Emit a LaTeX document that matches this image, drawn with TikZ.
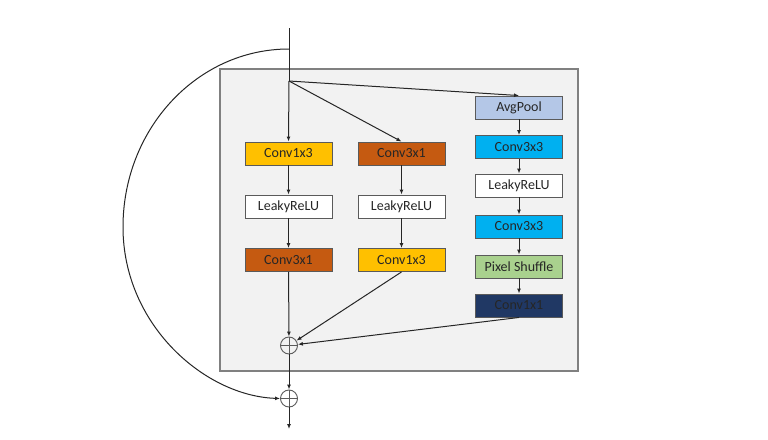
\documentclass[tikz,border=0pt]{standalone}
\usepackage{fontspec}
\setmainfont{Carlito}
\usetikzlibrary{arrows.meta}
\definecolor{txt}{HTML}{262626}
\definecolor{ln}{HTML}{262626}
\definecolor{bgbox}{HTML}{F2F2F2}
\definecolor{bgedge}{HTML}{808080}
\definecolor{cyel}{HTML}{FFC000}
\definecolor{corg}{HTML}{C55A11}
\definecolor{cpool}{HTML}{B4C7E7}
\definecolor{ccyan}{HTML}{00B0F0}
\definecolor{cgreen}{HTML}{A9D18E}
\definecolor{cnavy}{HTML}{203864}
\definecolor{bedge}{HTML}{5A5A5A}
\tikzset{
  blk/.style={draw=bedge, line width=0.9pt, minimum width=87pt, minimum height=23pt, inner sep=0pt,
    font=\fontsize{14}{16}\selectfont, text=txt},
  conn/.style={draw=ln, line width=1pt, -{Latex[length=5pt,width=4pt]}},
  plain/.style={draw=ln, line width=1pt},
  addc/.style={circle, draw=bedge, line width=0.9pt, minimum size=17pt, inner sep=0pt,
    path picture={\draw[bedge, line width=0.9pt]
      (path picture bounding box.west) -- (path picture bounding box.east)
      (path picture bounding box.north) -- (path picture bounding box.south);}}
}
\begin{document}
\begin{tikzpicture}[x=1pt,y=-1pt]
\useasboundingbox (0,0) rectangle (768,439);
\fill[white] (0,0) rectangle (768,439);
\draw[bgedge, fill=bgbox, line width=1.2pt] (220,69) rectangle (578,371);

\coordinate (top) at (289,28);
\coordinate (skip) at (289,49);
\coordinate (br) at (289,81);
\coordinate (out) at (289,429);

\node[blk, fill=cyel] (l1) at (288.5,153.5) {Conv1x3};
\node[blk, fill=white] (l2) at (288.5,206.5) {LeakyReLU};
\node[blk, fill=corg] (l3) at (288.5,260) {Conv3x1};

\node[blk, fill=corg] (m1) at (401.5,153.5) {Conv3x1};
\node[blk, fill=white] (m2) at (401.5,206.5) {LeakyReLU};
\node[blk, fill=cyel] (m3) at (401.5,260) {Conv1x3};

\node[blk, fill=cpool] (r1) at (519,107.5) {AvgPool};
\node[blk, fill=ccyan] (r2) at (519,147) {Conv3x3};
\node[blk, fill=white] (r3) at (519,185.5) {LeakyReLU};
\node[blk, fill=ccyan] (r4) at (519,226.5) {Conv3x3};
\node[blk, fill=cgreen] (r5) at (519,266.5) {Pixel Shuffle};
\node[blk, fill=cnavy] (r6) at (519,305.5) {Conv1x1};

\node[addc] (c1) at (289,345.5) {};
\node[addc] (c2) at (289,398.5) {};

\draw[plain] (top) -- (br);
\draw[conn] (br) -- (l1.north);
\draw[conn] (br) -- (m1.north);
\draw[conn] (br) -- (r1.north);
\draw[conn] (l1) -- (l2);
\draw[conn] (l2) -- (l3);
\draw[conn] (l3) -- (c1);
\draw[conn] (m1) -- (m2);
\draw[conn] (m2) -- (m3);
\draw[conn] (m3.south) -- (c1);
\draw[conn] (r1) -- (r2);
\draw[conn] (r2) -- (r3);
\draw[conn] (r3) -- (r4);
\draw[conn] (r4) -- (r5);
\draw[conn] (r5) -- (r6);
\draw[conn] (r6.south) -- (c1);
\draw[conn] (c1) -- (c2);
\draw[conn] (c2) -- (out);
\draw[conn] (skip) .. controls (197,49) and (123,129) .. (123,227)
   .. controls (123,325) and (205,396) .. (c2.west);
\end{tikzpicture}
\end{document}
